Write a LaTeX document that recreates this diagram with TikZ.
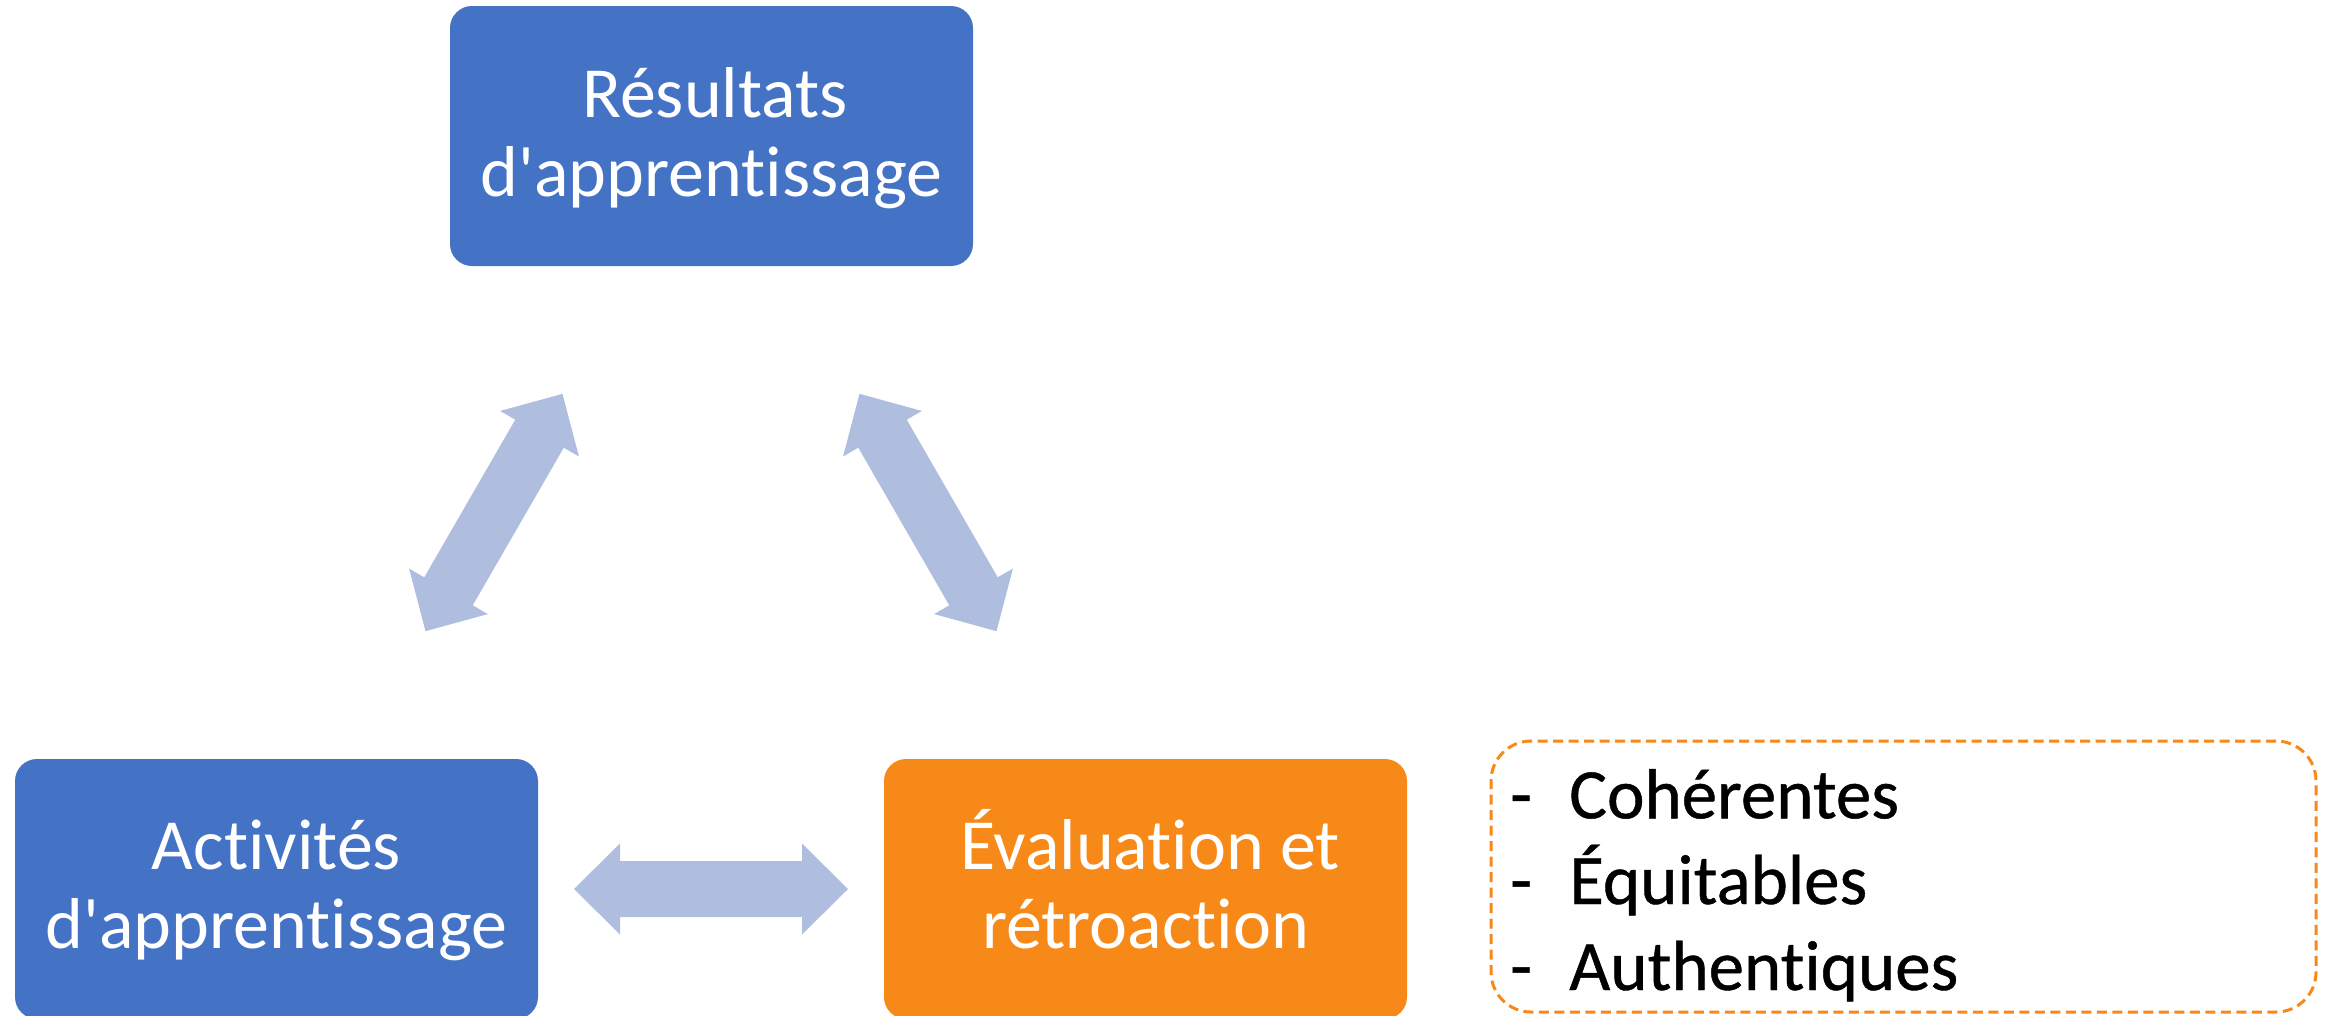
\documentclass[tikz,border=0pt]{standalone}
\usepackage{fontspec}
\setmainfont{Carlito}[Ligatures={NoCommon}]
\newfontfamily\listfont{Carlito}[Ligatures={NoCommon}, FakeBold=0.6]
\definecolor{boxblue}{RGB}{68,114,196}
\definecolor{boxorange}{RGB}{247,137,25}
\definecolor{arrowblue}{RGB}{175,189,223}
\tikzset{
  stepbox/.style={rounded corners=22pt, minimum width=523pt, minimum height=260pt, inner sep=0pt, draw=none},
  boxtext/.style={text=white, font=\fontsize{72}{80}\selectfont, anchor=base, inner sep=0pt},
  listtext/.style={text=black, font=\listfont\fontsize{71}{85}\selectfont, anchor=base west, inner sep=0pt},
  critbox/.style={draw=boxorange, line width=3pt, dash pattern=on 10pt off 5.5pt, rounded corners=40pt,
    minimum width=825pt, minimum height=271pt, inner sep=0pt},
  dblarrow/.pic={\fill[arrowblue] (-137,0) -- (-91,-45.5) -- (-91,-28) -- (91,-28) -- (91,-45.5)
     -- (137,0) -- (91,45.5) -- (91,28) -- (-91,28) -- (-91,45.5) -- cycle;}
}
\begin{document}
\begin{tikzpicture}[x=1pt,y=-1pt]
\useasboundingbox (0,0) rectangle (2333,1015);
% boxes
\node[stepbox, fill=boxblue] (res) at (711.5,136) {};
\node[stepbox, fill=boxblue] (act) at (276.5,889) {};
\node[stepbox, fill=boxorange] (eva) at (1145.5,889) {};
% texts
\node[boxtext] (res1) at (715,117.3) {Résultats};
\node[boxtext] (res2) at (711.5,196.7) {d\textquotesingle apprentissage};
\node[boxtext] (act1) at (276.5,869.3) {Activités};
\node[boxtext] (act2) at (276.5,948.3) {d\textquotesingle apprentissage};
\node[boxtext] (eva1) at (1150,869.3) {Évaluation et};
\node[boxtext] (eva2) at (1145.5,948.3) {rétroaction};
% arrows
\pic[rotate=60] (arL) at (494,512.5) {dblarrow};
\pic[rotate=-60] (arR) at (928,512.5) {dblarrow};
\pic (arB) at (711,889) {dblarrow};
% criteria box
\node[critbox] (crit) at (1903.5,876.5) {};
\node[listtext] (d1) at (1510,818.3) {-};
\node[listtext] (d2) at (1510,904) {-};
\node[listtext] (d3) at (1510,990) {-};
\node[listtext] (c1) at (1569,818.3) {Cohérentes};
\node[listtext] (c2) at (1569,904) {Équitables};
\node[listtext] (c3) at (1569,990) {Authentiques};
\end{tikzpicture}
\end{document}
